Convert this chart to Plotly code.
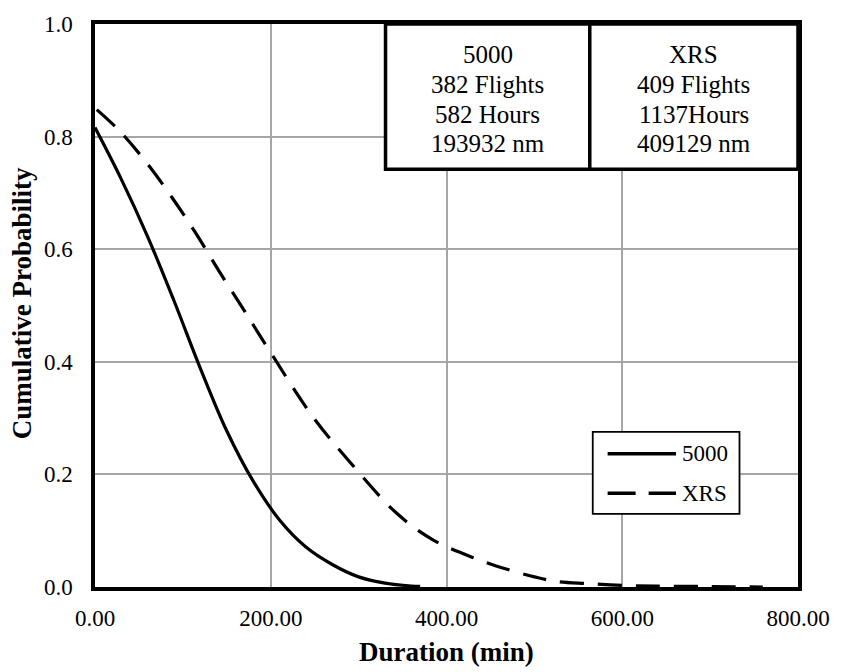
import plotly.graph_objects as go

# ---- data ----
dur_5000 = [0, 30, 60, 90, 120, 150, 180, 210, 240, 270, 300, 330, 360, 370]
prob_5000 = [0.816, 0.724, 0.622, 0.508, 0.388, 0.277, 0.188, 0.119, 0.071, 0.040, 0.018, 0.007, 0.0018, 0.001]

dur_xrs = [2, 28, 58, 88, 114.5, 140.8, 167, 193.6, 248, 289.5, 344, 385.5, 434, 470, 500, 524, 560, 600, 640, 700, 760]
prob_xrs = [0.848, 0.810, 0.755, 0.691, 0.629, 0.562, 0.498, 0.432, 0.302, 0.223, 0.130, 0.083, 0.050, 0.031, 0.018, 0.010, 0.006, 0.003, 0.0015, 0.0008, 0.0]

series_names = ["5000", "XRS"]
table_5000 = ["5000", "382 Flights", "582 Hours", "193932 nm"]
table_xrs = ["XRS", "409 Flights", "1137Hours", "409129 nm"]

x_ticks = [0, 200, 400, 600, 800]
y_ticks = [0, 0.2, 0.4, 0.6, 0.8, 1.0]

FONT = "Liberation Serif"
W, H = 842, 672
L, R, T, B = 95, 38, 17, 85
PW, PH = W - L - R, H - T - B


def px_x(px):
    return (px - L) / PW


def px_y(py):
    return (H - B - py) / PH


fig = go.Figure()
fig.add_trace(go.Scatter(x=dur_5000, y=prob_5000, mode="lines", name=series_names[0],
                         line=dict(color="black", width=3.2, shape="spline", smoothing=1.0),
                         showlegend=False))
fig.add_trace(go.Scatter(x=dur_xrs, y=prob_xrs, mode="lines", name=series_names[1],
                         line=dict(color="black", width=3.2, shape="spline", smoothing=1.0,
                                   dash="24px,14px"),
                         showlegend=False))

shapes = []
annotations = []

# stats table
tx0, tx1, tmid = px_x(388), px_x(804), px_x(594)
ty0, ty1 = px_y(164), px_y(17)
shapes.append(dict(type="rect", xref="paper", yref="paper", x0=tx0, x1=tx1, y0=ty0, y1=ty1,
                   line=dict(color="black", width=3.5), fillcolor="white", layer="above"))
shapes.append(dict(type="line", xref="paper", yref="paper", x0=tmid, x1=tmid, y0=ty0, y1=ty1,
                   line=dict(color="black", width=3.5), layer="above"))
line_y = [48, 78.5, 108.5, 138]
for col, cx in ((table_5000, (388 + 594) / 2), (table_xrs, (594 + 804) / 2)):
    for txt, ly in zip(col, line_y):
        annotations.append(dict(text=txt, xref="paper", yref="paper", x=px_x(cx), y=px_y(ly),
                                xanchor="center", yanchor="middle", showarrow=False,
                                font=dict(family=FONT, size=25, color="black")))

# legend
shapes.append(dict(type="rect", xref="paper", yref="paper", x0=px_x(597), x1=px_x(745),
                   y0=px_y(513), y1=px_y(430), line=dict(color="black", width=1.8),
                   fillcolor="white", layer="above"))
for name, ly, dash in ((series_names[0], 452, "solid"), (series_names[1], 492, "28px,13px")):
    shapes.append(dict(type="line", xref="paper", yref="paper", x0=px_x(612), x1=px_x(681),
                       y0=px_y(ly), y1=px_y(ly), line=dict(color="black", width=3.5, dash=dash),
                       layer="above"))
    annotations.append(dict(text=name, xref="paper", yref="paper", x=px_x(685), y=px_y(ly),
                            xanchor="left", yanchor="middle", showarrow=False,
                            font=dict(family=FONT, size=23, color="black")))

# axis titles
annotations.append(dict(text="<b>Duration (min)</b>", xref="paper", yref="paper",
                        x=px_x(450), y=px_y(653), xanchor="center", yanchor="middle",
                        showarrow=False, font=dict(family=FONT, size=27, color="black")))
annotations.append(dict(text="<b>Cumulative Probability</b>", xref="paper", yref="paper",
                        x=px_x(21), y=px_y(300), xanchor="center", yanchor="middle",
                        textangle=-90, showarrow=False,
                        font=dict(family=FONT, size=27, color="black")))

fig.update_layout(
    width=W, height=H,
    margin=dict(l=L, r=R, t=T, b=B),
    paper_bgcolor="white", plot_bgcolor="white",
    font=dict(family=FONT, size=23, color="black"),
    shapes=shapes, annotations=annotations,
    showlegend=False,
)
fig.update_xaxes(range=[0, 800], tickvals=x_ticks, tickformat=".2f",
                 showgrid=True, gridcolor="#a6a6a6", gridwidth=1.5,
                 showline=True, linecolor="black", linewidth=3.5, mirror=True,
                 ticks="", ticklabelstandoff=8, zeroline=False,
                 tickfont=dict(family=FONT, size=23, color="black"))
fig.update_yaxes(range=[0, 1.0], tickvals=y_ticks, tickformat=".1f",
                 showgrid=True, gridcolor="#a6a6a6", gridwidth=1.5,
                 showline=True, linecolor="black", linewidth=3.5, mirror=True,
                 ticks="", ticklabelstandoff=14, zeroline=False,
                 tickfont=dict(family=FONT, size=23, color="black"))

fig.write_html("out.html")
